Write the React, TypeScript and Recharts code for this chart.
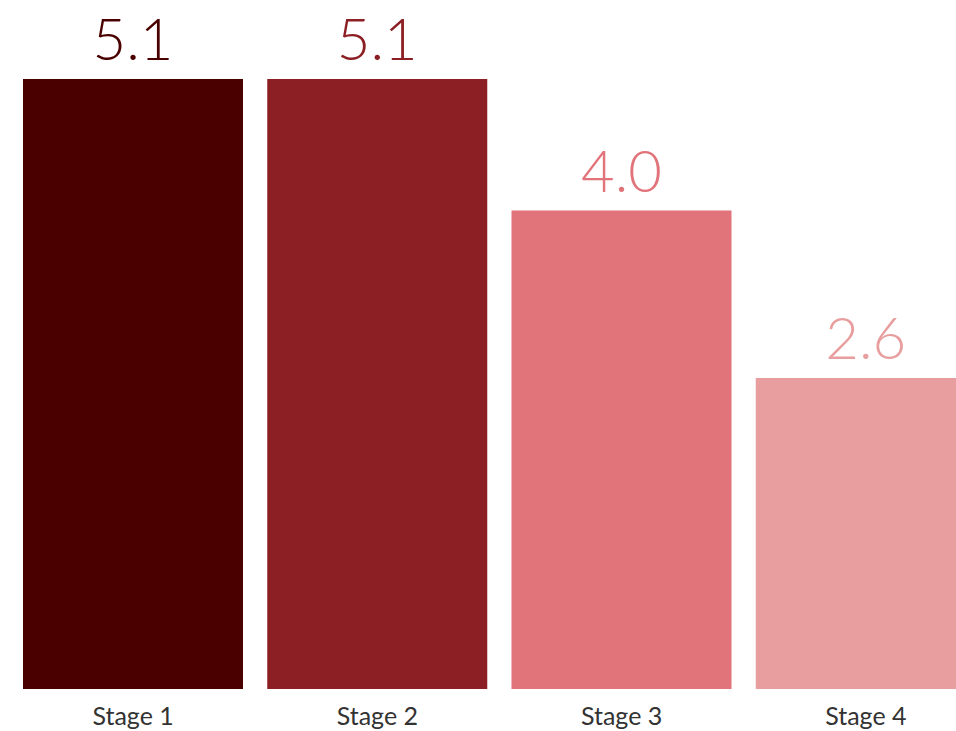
import { BarChart, Bar, XAxis, YAxis, Cell, LabelList } from 'recharts'

const stages = ['Stage 1', 'Stage 2', 'Stage 3', 'Stage 4']
const values = [5.1, 5.1, 4.0, 2.6]

const barColors = ['#4b0000', '#8c1f23', '#e1737a', '#e89e9e']
const font = 'Lato, "Noto Sans", sans-serif'

const chartData = stages.map((stage, i) => ({ stage, value: values[i], color: barColors[i] }))

function ValueLabel(props: any) {
  const { x, y, width, value, index } = props
  return (
    <text
      x={x + width / 2}
      y={y - 19}
      textAnchor="middle"
      fill={barColors[index]}
      fontSize={58}
      fontFamily={font}
      fontWeight={300}
    >
      {Number(value).toFixed(1)}
    </text>
  )
}

export default function App() {
  return (
    <div style={{ position: 'absolute', left: 0, top: 0, width: 956, height: 731, overflow: 'hidden', background: '#fff' }}>
      <BarChart
        width={1000}
        height={731}
        data={chartData}
        margin={{ top: 79, right: 12, left: 11, bottom: 0 }}
        barCategoryGap={12}
      >
        <XAxis
          dataKey="stage"
          axisLine={false}
          tickLine={false}
          height={42}
          tick={{ fontSize: 25, fill: '#333', fontFamily: font }}
          tickMargin={12}
          interval={0}
        />
        <YAxis hide domain={[0, 5.1]} />
        <Bar dataKey="value" isAnimationActive={false}>
          {chartData.map((d, i) => (
            <Cell key={i} fill={d.color} />
          ))}
          <LabelList dataKey="value" content={<ValueLabel />} />
        </Bar>
      </BarChart>
    </div>
  )
}
